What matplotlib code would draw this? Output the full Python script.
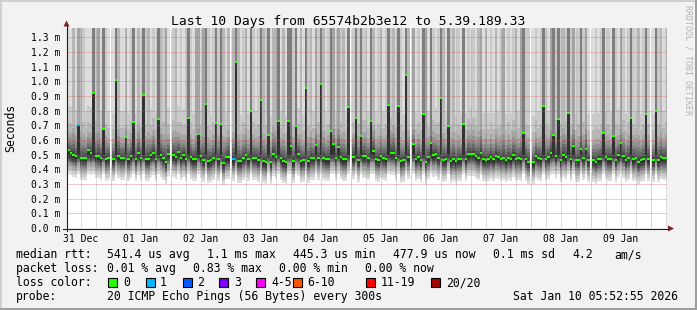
import numpy as np
import matplotlib
matplotlib.use("Agg")
import matplotlib.pyplot as plt
from matplotlib.patches import Rectangle, Polygon

plt.rcParams['font.family'] = ['DejaVu Sans Mono']

W, H = 697, 310

# median rtt per 1 hour step in ms (31 Dec ~06:00 -> 10 Jan ~06:00), nan = no data
median_ms = [
    0.53, 0.51, 0.50, 0.49, 0.70, 0.48, 0.48, 0.48, 0.53, 0.51,
    0.92, 0.49, 0.49, 0.48, 0.675, 0.47, 0.48, np.nan, 0.47, 1.01,
    0.49, 0.48, 0.48, 0.62, 0.47, 0.49, 0.72, 0.47, 0.51, 0.48,
    0.91, 0.47, 0.47, 0.50, 0.51, 0.47, 0.74, 0.50, 0.48,
    0.452, 0.507, np.nan, 0.498, 0.484, 0.516, 0.480, 0.498, 0.471, 0.75,
    0.484, 0.471, 0.471, 0.64, 0.491, 0.466, 0.845, 0.457, 0.466, 0.480,
    0.716, 0.471, 0.71, 0.445, 0.484, 0.484, np.nan, 0.47, 1.13, 0.457,
    0.457, 0.48, 0.498, 0.471, 0.80, 0.48, 0.48, 0.466, 0.87, 0.457, 0.452,
    0.634, 0.452, 0.507, 0.484, 0.729, 0.48, 0.457, 0.452, 0.729, 0.559,
    0.457, 0.698, 0.507, 0.457, 0.466, 0.957, 0.457, 0.48, 0.48, 0.566,
    0.48, 0.98, 0.48, 0.471, 0.471, 0.661, 0.575, 0.48, 0.55, 0.484,
    0.471, 0.471, 0.825, np.nan, 0.484, 0.75, 0.466, 0.63, 0.493,
    0.493, 0.48, 0.729, 0.525, 0.471, 0.466, 0.491, 0.48, 0.471, 0.838,
    0.511, 0.511, 0.48, 0.832, 0.457, 0.466, 1.043, 0.484, np.nan, 0.575,
    0.471, 0.484, 0.466, 0.777, 0.452, 0.484, 0.582, 0.498, 0.507, 0.48,
    0.888, 0.466, 0.471, 0.698, 0.457, 0.471, 0.457, 0.471, 0.471, 0.711,
    0.471, 0.505, 0.507, 0.507, 0.49, 0.48, 0.511, 0.471, 0.466, 0.471,
    0.484, 0.471, 0.493, 0.484, 0.471, 0.48, 0.462, 0.48, 0.471, 0.498,
    0.471, 0.48, 0.471, 0.65, 0.471, 0.452, np.nan, 0.449, 0.493, 0.48,
    0.471, 0.83, 0.471, 0.484, 0.511, 0.634, 0.493, 0.743, 0.466, 0.498,
    0.484, 0.784, 0.471, 0.561, 0.466, 0.466, 0.539, 0.48, 0.539, 0.466,
    np.nan, 0.466, 0.452, 0.471, 0.471, 0.648, 0.484, 0.471, 0.471, 0.63,
    0.466, 0.498, 0.58, 0.493, 0.466, 0.48, 0.75, 0.471, 0.48, 0.452,
    0.466, 0.471, 0.777, 0.471, np.nan, 0.466, 0.798, 0.466, 0.484, 0.48, 0.48,
]

# how many of the 20 pings of each step went above the top of the graph
tail_pings = ("1131432111" "6241621016" "3113126131" "623121632"
              "4102312126" "2144146212" "6263130363" "12316212632"
              "6133613166" "2613162314" "2631264142" "316026262"
              "2163123126" "2316216304" "1216416212" "6316231216"
              "1212134131" "2131241212" "3146220121" "2621462623"
              "2624126241" "0121261216" "2142126213" "12620162312")

# typical sorted pings below and above the median (ms)
low_pings = [0.33, 0.35, 0.37, 0.385, 0.40, 0.41, 0.42, 0.43, 0.44, 0.455]
high_pings = [0.50, 0.52, 0.545, 0.567, 0.60, 0.64, 0.72, 0.85, 1.6]
base_median = 0.48
# the upper smoke spreads wider in noisy hours (by tail count)
spread_by_tail = [1.0, 0.85, 1.0, 1.15, 1.3, 1.45, 1.6]

loss_steps = [4, 66]
loss_counts = [1, 1]

day_labels = ['31 Dec', '01 Jan', '02 Jan', '03 Jan', '04 Jan',
              '05 Jan', '06 Jan', '07 Jan', '08 Jan', '09 Jan']
first_midnight = 17.6  # hours after graph start
ytick_vals = [0.0, 0.1, 0.2, 0.3, 0.4, 0.5, 0.6, 0.7, 0.8, 0.9, 1.0, 1.1, 1.2, 1.3]
ytick_labels = ['%.1f m' % v for v in ytick_vals]

loss_names = ['0', '1', '2', '3', '4-5', '6-10', '11-19', '20/20']
loss_colors = ['#26ff00', '#00b8ff', '#0059ff', '#7e00ff',
               '#ff00ff', '#ff5500', '#ff0000', '#a00000']

legend_rows = [
    (258, [(16, 'median rtt:'), (107, '541.4 us avg'), (207, '1.1 ms max'),
           (293, '445.3 us min'), (393, '477.9 us now'), (493, '0.1 ms sd'),
           (572, '4.2'), (614, 'am/s')]),
    (272, [(16, 'packet loss:'), (107, '0.01 % avg'), (193, '0.83 % max'),
           (279, '0.00 % min'), (365, '0.00 % now')]),
    (286, [(16, 'loss color:')]),
    (300, [(16, 'probe:'), (107, '20 ICMP Echo Pings (56 Bytes) every 300s'),
           (513, 'Sat Jan 10 05:52:55 2026')]),
]
box_x = [108, 146, 183, 219, 256, 293, 366, 431]
box_label_x = [123, 160, 197, 234, 271, 307, 381, 446]

y_top = 1.3635

med = np.array(median_ms, dtype=float)
n = len(med)
steps = np.arange(n)
ok = ~np.isnan(med)
tails = np.array([int(c) for c in tail_pings])

# build the 20 sorted pings for each step
pings = np.full((n, 20), np.nan)
for i in range(n):
    m = med[i]
    if np.isnan(m):
        continue
    k = tails[i]
    shift = np.clip(m - base_median, -0.04, 0.04)
    lo = np.minimum(np.array(low_pings) + shift, m)
    hi = base_median + shift + (np.array(high_pings) - base_median) * spread_by_tail[k]
    hi = np.maximum(hi, m)
    if k > 0:
        hi[-k:] = 2 * y_top
    pings[i] = np.concatenate([lo, [m], hi])

fig = plt.figure(figsize=(W / 100, H / 100), dpi=100, facecolor='#f2f2f2')
ax = fig.add_axes([67 / W, 1 - 228 / H, 600 / W, 200 / H])
ax.set_facecolor('white')
for s in ax.spines.values():
    s.set_visible(False)
ax.set_xlim(0, n)
ax.set_ylim(0, y_top)

# smoke: 10 bands, lightest outside, darkest around the median
for b in range(10):
    g = int(190 / 10 * (10 - (b + 1))) + 50
    col = '#%02x%02x%02x' % (g, g, g)
    bottom = pings[ok, b]
    height = pings[ok, 19 - b] - bottom
    ax.bar(steps[ok], height, bottom=bottom, width=1, align='edge',
           color=col, linewidth=0, antialiased=False, zorder=1)

# grid (dotted, drawn over the smoke)
mgrid = (0.87, 0.31, 0.31, 0.6)
grid = (0.56, 0.56, 0.56, 0.6)
for v in ytick_vals[1:]:
    ax.axhline(v, color=mgrid, lw=0.72, ls=(0, (1, 1)), zorder=2)
for h in np.arange(first_midnight - 12, n, 6):
    is_day = abs((h - first_midnight) % 24) < 0.01
    ax.axvline(h, color=mgrid if is_day else grid, lw=0.72, ls=(0, (1, 1)), zorder=2)

# median with loss colour
loss = np.zeros(n, dtype=int)
for s_, c_ in zip(loss_steps, loss_counts):
    loss[s_] = c_
cols = [loss_colors[c] for c in loss[ok]]
ax.hlines(med[ok], steps[ok], steps[ok] + 1, colors=cols, lw=1.5, zorder=3)

ax.set_yticks(ytick_vals, ytick_labels)
ax.tick_params(axis='y', length=0, pad=5, labelsize=7.05)
noon = [first_midnight - 12 + 24 * k for k in range(len(day_labels))]
ax.set_xticks(noon, day_labels)
ax.tick_params(axis='x', length=0, pad=4.4, labelsize=7.05)

# overlay in pixel coordinates for frame, axes arrows and legend
ov = fig.add_axes([0, 0, 1, 1], zorder=5)
ov.set_xlim(0, W)
ov.set_ylim(H, 0)
ov.axis('off')

ov.add_patch(Rectangle((0, 0), W, 2, color='#cfcfcf', lw=0))
ov.add_patch(Rectangle((0, 0), 2, H, color='#cfcfcf', lw=0))
ov.add_patch(Rectangle((0, H - 2), W, 2, color='#9e9e9e', lw=0))
ov.add_patch(Rectangle((W - 2, 0), 2, H, color='#9e9e9e', lw=0))

ov.plot([63, 668], [228.5, 228.5], color='#1f1f1f', lw=0.8)
ov.plot([66.5, 66.5], [231, 26], color='#1f1f1f', lw=0.8)
ov.add_patch(Polygon([(63.5, 26.5), (69.5, 26.5), (66.5, 20.5)], closed=True,
                     color='#801f1f', lw=0))
ov.add_patch(Polygon([(668, 225.5), (668, 231.5), (674, 228.5)], closed=True,
                     color='#801f1f', lw=0))

ov.text(W / 2, 25, 'Last 10 Days from 65574b2b3e12 to 5.39.189.33',
        ha='center', va='baseline', fontsize=9.4)
ov.text(11, 127.5, 'Seconds', rotation=90, ha='center', va='center', fontsize=8.3)
ov.text(688, 60, 'RRDTOOL / TOBI OETIKER', rotation=270, ha='center', va='center',
        fontsize=6, color='#b4b4b4')

for yb, items in legend_rows:
    for x, s in items:
        ov.text(x, yb, s, ha='left', va='baseline', fontsize=8.3)

for bx, lx, name, c in zip(box_x, box_label_x, loss_names, loss_colors):
    ov.add_patch(Rectangle((bx, 278), 8.5, 8.5, facecolor=c, edgecolor='black', lw=0.8))
    ov.text(lx, 286, name, ha='left', va='baseline', fontsize=8.3)

fig.savefig('out.png', dpi=100, facecolor=fig.get_facecolor())
